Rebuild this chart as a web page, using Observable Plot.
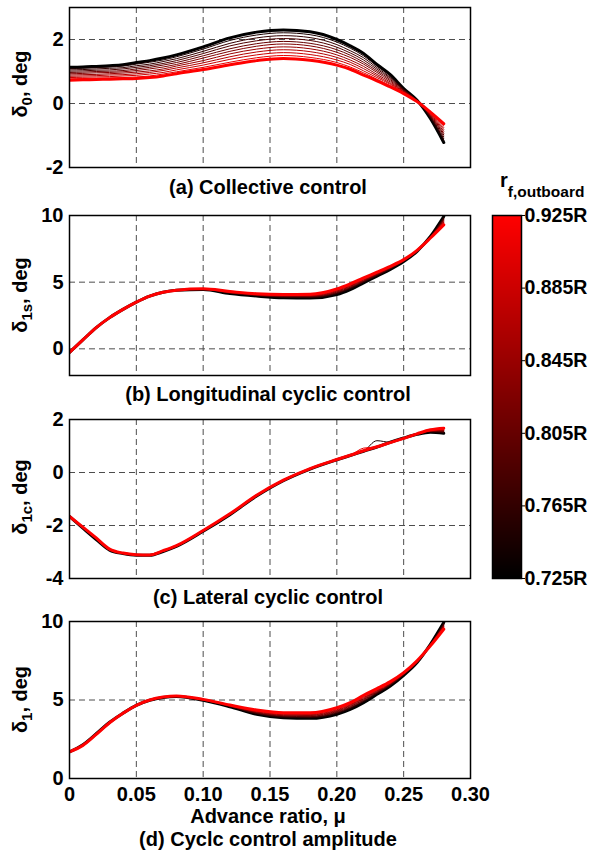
<!DOCTYPE html>
<html><head><meta charset="utf-8">
<script src="https://cdn.jsdelivr.net/npm/d3@7"></script>
<script src="https://cdn.jsdelivr.net/npm/@observablehq/plot@0.6"></script>
<style>
body{margin:0;background:#fff;}
#fig{position:relative;width:590px;height:853px;font-family:"Liberation Sans",Arial,sans-serif;font-weight:bold;}
#fig svg{position:absolute;overflow:visible;}
</style></head><body><div id="fig"></div>
<script>
// ---------------- data ----------------
const mu = [0,0.01,0.02,0.03,0.04,0.05,0.06,0.07,0.08,0.10,0.12,0.14,0.16,0.18,0.20,0.21,0.22,0.23,0.24,0.25,0.26,0.27,0.28];
const rValues = [0.725,0.745,0.765,0.785,0.805,0.825,0.845,0.865,0.885,0.905,0.925];
const colorbarTicks = [0.725,0.765,0.805,0.845,0.885,0.925];
const xTicks = [0,0.05,0.10,0.15,0.20,0.25,0.30];

// (a) collective, one row per r value
const collective = [
 [1.13,1.14,1.16,1.18,1.21,1.28,1.34,1.42,1.52,1.77,2.05,2.23,2.30,2.24,2.00,1.80,1.56,1.22,0.90,0.47,0.10,-0.47,-1.22],
 [1.09,1.10,1.12,1.14,1.17,1.23,1.29,1.36,1.46,1.70,1.97,2.14,2.21,2.15,1.92,1.73,1.49,1.17,0.86,0.45,0.10,-0.45,-1.16],
 [1.05,1.06,1.08,1.10,1.12,1.18,1.23,1.31,1.40,1.63,1.88,2.05,2.12,2.06,1.84,1.65,1.43,1.12,0.82,0.44,0.09,-0.43,-1.10],
 [1.01,1.02,1.04,1.05,1.08,1.13,1.18,1.25,1.34,1.56,1.80,1.96,2.03,1.97,1.76,1.58,1.36,1.07,0.79,0.42,0.09,-0.41,-1.04],
 [0.97,0.98,1.00,1.01,1.03,1.08,1.13,1.20,1.28,1.49,1.71,1.87,1.94,1.88,1.68,1.51,1.29,1.02,0.75,0.41,0.08,-0.39,-0.98],
 [0.93,0.94,0.96,0.97,0.99,1.03,1.08,1.14,1.22,1.42,1.63,1.79,1.86,1.80,1.60,1.44,1.23,0.97,0.71,0.39,0.08,-0.37,-0.93],
 [0.89,0.90,0.91,0.93,0.95,0.98,1.02,1.08,1.17,1.34,1.55,1.70,1.77,1.71,1.52,1.36,1.16,0.91,0.67,0.37,0.08,-0.35,-0.87],
 [0.85,0.86,0.87,0.89,0.90,0.93,0.97,1.03,1.11,1.27,1.46,1.61,1.68,1.62,1.44,1.29,1.09,0.86,0.63,0.36,0.07,-0.33,-0.81],
 [0.81,0.82,0.83,0.84,0.86,0.88,0.92,0.97,1.05,1.20,1.38,1.52,1.59,1.53,1.36,1.22,1.02,0.81,0.60,0.34,0.07,-0.31,-0.75],
 [0.77,0.78,0.79,0.80,0.81,0.83,0.86,0.92,0.99,1.13,1.29,1.43,1.50,1.44,1.28,1.14,0.96,0.76,0.56,0.33,0.06,-0.29,-0.69],
 [0.73,0.74,0.75,0.76,0.77,0.78,0.81,0.86,0.93,1.06,1.21,1.34,1.41,1.35,1.20,1.07,0.89,0.71,0.52,0.31,0.06,-0.27,-0.63]
];
// (b) longitudinal cyclic
const longitudinal = [
 [-0.27,0.67,1.59,2.34,2.96,3.51,3.96,4.25,4.40,4.45,4.15,3.96,3.83,3.81,4.08,4.45,4.95,5.45,5.95,6.54,7.31,8.43,9.93],
 [-0.27,0.67,1.59,2.34,2.96,3.51,3.96,4.25,4.40,4.46,4.17,3.98,3.86,3.84,4.12,4.49,4.99,5.48,5.97,6.56,7.32,8.42,9.87],
 [-0.27,0.67,1.59,2.34,2.96,3.51,3.96,4.25,4.40,4.46,4.18,3.99,3.88,3.87,4.16,4.54,5.02,5.51,6.00,6.57,7.33,8.41,9.80],
 [-0.27,0.67,1.59,2.34,2.96,3.51,3.96,4.25,4.40,4.47,4.20,4.01,3.91,3.90,4.21,4.58,5.06,5.54,6.02,6.59,7.33,8.39,9.74],
 [-0.27,0.67,1.59,2.34,2.96,3.51,3.96,4.25,4.40,4.47,4.21,4.03,3.93,3.93,4.25,4.62,5.10,5.57,6.05,6.60,7.34,8.38,9.68],
 [-0.27,0.67,1.59,2.34,2.96,3.51,3.96,4.25,4.40,4.48,4.23,4.05,3.96,3.96,4.29,4.67,5.14,5.60,6.07,6.62,7.35,8.37,9.62],
 [-0.27,0.67,1.59,2.34,2.96,3.51,3.96,4.25,4.40,4.48,4.24,4.06,3.98,3.98,4.33,4.71,5.17,5.63,6.09,6.63,7.36,8.36,9.55],
 [-0.27,0.67,1.59,2.34,2.96,3.51,3.96,4.25,4.40,4.49,4.26,4.08,4.01,4.01,4.37,4.75,5.21,5.66,6.12,6.65,7.37,8.35,9.49],
 [-0.27,0.67,1.59,2.34,2.96,3.51,3.96,4.25,4.40,4.49,4.27,4.10,4.03,4.04,4.42,4.79,5.25,5.69,6.14,6.66,7.37,8.33,9.43],
 [-0.27,0.67,1.59,2.34,2.96,3.51,3.96,4.25,4.40,4.50,4.29,4.11,4.06,4.07,4.46,4.84,5.28,5.72,6.17,6.68,7.38,8.32,9.36],
 [-0.27,0.67,1.59,2.34,2.96,3.51,3.96,4.25,4.40,4.50,4.30,4.13,4.08,4.10,4.50,4.88,5.32,5.75,6.19,6.69,7.39,8.31,9.30]
];
// (c) lateral cyclic
const lateral = [
 [-1.66,-2.10,-2.53,-2.93,-3.06,-3.12,-3.12,-2.98,-2.79,-2.22,-1.59,-0.89,-0.31,0.13,0.48,0.64,0.80,0.96,1.14,1.30,1.44,1.52,1.48],
 [-1.66,-2.10,-2.52,-2.93,-3.06,-3.12,-3.12,-2.98,-2.79,-2.22,-1.59,-0.89,-0.31,0.13,0.48,0.64,0.80,1.20,1.14,1.30,1.44,1.53,1.50],
 [-1.66,-2.09,-2.52,-2.92,-3.06,-3.12,-3.12,-2.97,-2.78,-2.21,-1.58,-0.88,-0.31,0.13,0.48,0.64,0.80,0.96,1.14,1.30,1.44,1.54,1.52],
 [-1.66,-2.09,-2.51,-2.92,-3.05,-3.11,-3.12,-2.97,-2.78,-2.21,-1.58,-0.88,-0.30,0.14,0.48,0.64,0.81,0.96,1.14,1.30,1.45,1.55,1.54],
 [-1.66,-2.08,-2.51,-2.91,-3.05,-3.11,-3.12,-2.97,-2.78,-2.21,-1.58,-0.88,-0.30,0.14,0.48,0.64,0.81,0.96,1.14,1.30,1.45,1.56,1.56],
 [-1.66,-2.08,-2.50,-2.91,-3.05,-3.11,-3.12,-2.97,-2.78,-2.21,-1.58,-0.88,-0.30,0.14,0.49,0.65,0.81,0.97,1.14,1.30,1.45,1.57,1.58],
 [-1.66,-2.08,-2.49,-2.91,-3.05,-3.11,-3.11,-2.96,-2.77,-2.20,-1.57,-0.87,-0.30,0.14,0.49,0.65,0.81,0.97,1.13,1.29,1.45,1.57,1.59],
 [-1.66,-2.07,-2.49,-2.90,-3.05,-3.11,-3.11,-2.96,-2.77,-2.20,-1.57,-0.87,-0.30,0.14,0.49,0.65,0.81,0.97,1.13,1.29,1.45,1.58,1.61],
 [-1.66,-2.07,-2.48,-2.90,-3.04,-3.10,-3.11,-2.96,-2.77,-2.20,-1.57,-0.87,-0.29,0.15,0.49,0.65,0.82,0.97,1.13,1.29,1.46,1.59,1.63],
 [-1.66,-2.06,-2.48,-2.89,-3.04,-3.10,-3.11,-2.95,-2.76,-2.19,-1.56,-0.86,-0.29,0.15,0.49,0.65,0.92,0.97,1.13,1.29,1.46,1.60,1.65],
 [-1.66,-2.06,-2.47,-2.89,-3.04,-3.10,-3.11,-2.95,-2.76,-2.19,-1.56,-0.86,-0.29,0.15,0.49,0.65,0.82,0.97,1.13,1.29,1.46,1.61,1.67]
];
// (d) cyclic control amplitude
const amplitude = [
 [1.70,2.15,2.85,3.58,4.16,4.66,4.98,5.16,5.22,4.98,4.57,4.09,3.87,3.83,4.09,4.40,4.83,5.36,5.89,6.57,7.38,8.55,9.94],
 [1.70,2.15,2.85,3.58,4.16,4.66,4.98,5.16,5.22,4.99,4.58,4.12,3.90,3.87,4.13,4.44,4.88,5.40,5.92,6.59,7.39,8.54,9.90],
 [1.70,2.14,2.84,3.57,4.16,4.66,4.98,5.17,5.23,4.99,4.59,4.14,3.93,3.90,4.17,4.49,4.92,5.43,5.95,6.60,7.40,8.53,9.85],
 [1.70,2.14,2.84,3.57,4.16,4.66,4.99,5.17,5.23,5.00,4.60,4.17,3.97,3.94,4.22,4.53,4.97,5.47,5.97,6.62,7.41,8.52,9.81],
 [1.70,2.13,2.83,3.57,4.16,4.66,4.99,5.17,5.24,5.00,4.61,4.20,4.00,3.97,4.26,4.57,5.02,5.50,6.00,6.64,7.42,8.51,9.77],
 [1.70,2.13,2.83,3.57,4.16,4.66,4.99,5.18,5.24,5.01,4.63,4.23,4.03,4.01,4.30,4.62,5.07,5.54,6.03,6.66,7.44,8.50,9.73],
 [1.70,2.13,2.83,3.56,4.15,4.66,4.99,5.18,5.24,5.02,4.64,4.25,4.06,4.05,4.34,4.66,5.11,5.58,6.06,6.67,7.45,8.49,9.68],
 [1.70,2.12,2.82,3.56,4.15,4.66,4.99,5.18,5.25,5.02,4.65,4.28,4.09,4.08,4.38,4.70,5.16,5.61,6.09,6.69,7.46,8.48,9.64],
 [1.70,2.12,2.82,3.56,4.15,4.66,5.00,5.18,5.25,5.03,4.66,4.31,4.13,4.12,4.43,4.74,5.21,5.65,6.11,6.71,7.47,8.47,9.60],
 [1.70,2.11,2.81,3.55,4.15,4.66,5.00,5.19,5.26,5.03,4.67,4.33,4.16,4.15,4.47,4.79,5.25,5.68,6.14,6.72,7.48,8.46,9.55],
 [1.70,2.11,2.81,3.55,4.15,4.66,5.00,5.19,5.26,5.04,4.68,4.36,4.19,4.19,4.51,4.83,5.30,5.72,6.17,6.74,7.49,8.45,9.51]
];

// ---------------- drawing ----------------
const fig = document.getElementById("fig");
const FONT = '"Liberation Sans", Arial, sans-serif';
const FS = 20;
const colorScale = {type: "linear", domain: [0.725, 0.925], range: ["black", "red"], interpolate: "rgb"};

function panel(rows, frameTop, frameBottom, yDomain, yTicks, showX) {
  const data = [];
  rows.forEach((row, k) => row.forEach((v, i) => data.push({mu: mu[i], v, r: rValues[k], k})));
  const mt = 10, mb = showX ? 30 : 10;
  const h = frameBottom - frameTop + mt + mb;
  const lineOpts = {x: "mu", y: "v", z: "r", stroke: "r", curve: "monotone-x", clip: true};
  const gridOpts = {stroke: "#4d4d4d", strokeOpacity: 1, strokeWidth: 1, strokeDasharray: "6,4"};
  const marks = [
    Plot.gridX(xTicks.slice(1, -1), gridOpts),
    Plot.gridY(yTicks.filter(t => t > yDomain[0] && t < yDomain[1]), gridOpts),
    Plot.axisY(yTicks, {tickSize: 0, tickPadding: 6, tickFormat: d => String(d), fontSize: FS, fontWeight: "bold", label: null}),
    Plot.line(data.filter(d => d.k === 0), {...lineOpts, strokeWidth: 3}),
    Plot.line(data.filter(d => d.k > 0 && d.k < 10), {...lineOpts, strokeWidth: 1}),
    Plot.line(data.filter(d => d.k === 10), {...lineOpts, strokeWidth: 3}),
    Plot.frame({stroke: "black", strokeWidth: 1.5})
  ];
  if (showX) marks.push(Plot.axisX(xTicks, {tickSize: 0, tickPadding: 8, tickFormat: d => d === 0 ? "0" : d.toFixed(2), fontSize: FS, fontWeight: "bold", label: null}));
  const svg = Plot.plot({
    width: 590, height: h,
    marginLeft: 69, marginRight: 120, marginTop: mt, marginBottom: mb,
    style: {fontFamily: FONT, fontSize: FS + "px", fontWeight: "bold", background: "transparent", overflow: "visible", color: "black"},
    x: {domain: [0, 0.3], axis: showX ? undefined : null},
    y: {domain: yDomain},
    color: colorScale,
    marks
  });
  svg.style.left = "0px";
  svg.style.top = (frameTop - mt) + "px";
  fig.appendChild(svg);
}

panel(collective, 7, 167, [-2, 3], [-2, 0, 2], false);
panel(longitudinal, 215, 375, [-2, 10], [0, 5, 10], false);
panel(lateral, 419, 578, [-4, 2], [-4, -2, 0, 2], false);
panel(amplitude, 621, 778, [0, 10], [0, 5, 10], true);

// colorbar
const cb = Plot.plot({
  width: 108, height: 383,
  marginLeft: 10, marginRight: 69, marginTop: 10, marginBottom: 10,
  style: {fontFamily: FONT, fontSize: "19.5px", fontWeight: "bold", background: "transparent", overflow: "visible", color: "black"},
  x: {domain: [0, 1], axis: null},
  y: {domain: [0.725, 0.925]},
  color: colorScale,
  marks: [
    Plot.raster({x1: 0, x2: 1, y1: 0.725, y2: 0.925, width: 2, height: 256, fill: (x, y) => y}),
    Plot.axisY(colorbarTicks, {anchor: "right", tickSize: 3, tickPadding: 0, tickFormat: d => d.toFixed(3) + "R", fontSize: 19.5, fontWeight: "bold", label: null}),
    Plot.frame({stroke: "black", strokeWidth: 1.5})
  ]
});
cb.style.left = "482px";
cb.style.top = "205px";
fig.appendChild(cb);

// text overlay
const ov = d3.select(fig).append("svg")
  .attr("width", 590).attr("height", 853)
  .style("left", "0px").style("top", "0px")
  .attr("font-family", FONT).attr("font-weight", "bold").attr("font-size", FS).attr("fill", "black");

const titles = [
  ["(a) Collective control", 194],
  ["(b) Longitudinal cyclic control", 401],
  ["(c) Lateral cyclic control", 604],
  ["Advance ratio, \u03bc", 823],
  ["(d) Cyclc control amplitude", 846]
];
titles.forEach(([t, y]) => ov.append("text").attr("x", 268).attr("y", y).attr("text-anchor", "middle").text(t));

const yLabels = [["0", 84], ["1s", 295], ["1c", 497], ["1", 699.5]];
yLabels.forEach(([sub, cy]) => {
  const t = ov.append("text").attr("transform", `translate(27,${cy}) rotate(-90)`).attr("text-anchor", "middle");
  t.append("tspan").text("\u03b4");
  t.append("tspan").attr("dy", 5).attr("font-size", 15).text(sub);
  t.append("tspan").attr("dy", -5).text(", deg");
});

const ct = ov.append("text").attr("x", 500).attr("y", 187);
ct.append("tspan").text("r");
ct.append("tspan").attr("dy", 10).attr("font-size", 15.5).text("f,outboard");
</script></body></html>
